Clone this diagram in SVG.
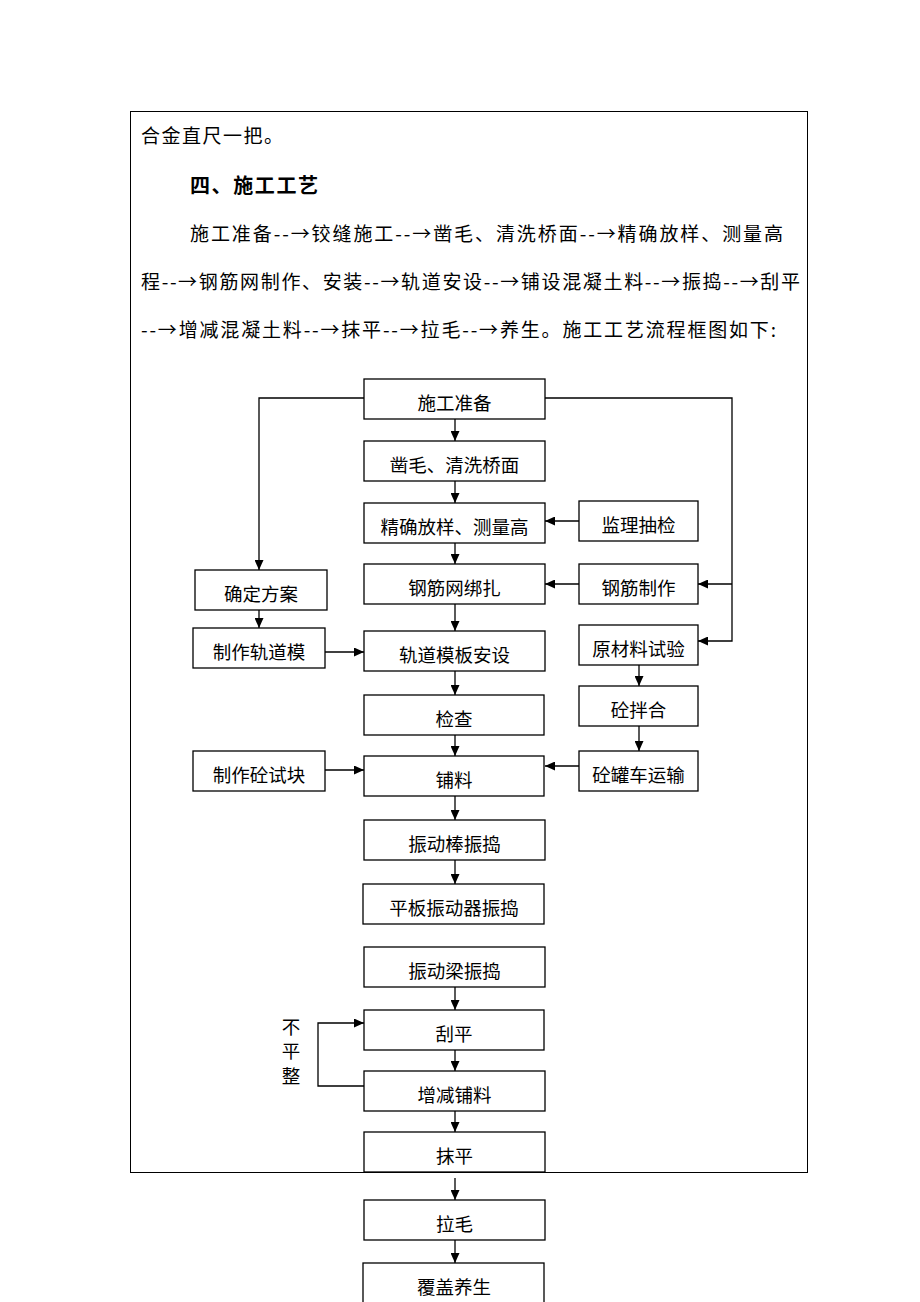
<svg xmlns="http://www.w3.org/2000/svg" width="920" height="1302" viewBox="0 0 920 1302">
<style>
.p{font-family:"Noto Sans CJK SC","Liberation Sans",sans-serif;font-size:19px;fill:#000}
.h{font-weight:bold;font-size:20px}
.bx{fill:#fff;stroke:#000;stroke-width:1.3}
.t{font-family:"Noto Sans CJK SC","Liberation Sans",sans-serif;font-size:18.5px;fill:#000;text-anchor:middle}
.c{fill:none;stroke:#000;stroke-width:1.3}
</style>
<defs>
<marker id="a" markerUnits="userSpaceOnUse" markerWidth="10" markerHeight="9" refX="10" refY="4.5" orient="auto"><path d="M0,0 L10,4.5 L0,9 z" fill="#000"/></marker>
</defs>
<rect x="130.5" y="111.5" width="677" height="1061" fill="#fff" stroke="#000" stroke-width="1"/>
<text class="p" x="141" y="143" textLength="142">合金直尺一把。</text>
<text class="p h" x="190" y="193" textLength="128">四、施工工艺</text>
<text class="p" x="190" y="241" textLength="593">施工准备--→铰缝施工--→凿毛、清洗桥面--→精确放样、测量高</text>
<text class="p" x="141" y="289" textLength="659">程--→钢筋网制作、安装--→轨道安设--→铺设混凝土料--→振捣--→刮平</text>
<text class="p" x="141" y="337" textLength="635">--→增减混凝土料--→抹平--→拉毛--→养生。施工工艺流程框图如下:</text>
<g id="connectors">
<path class="c" d="M364,398 H259 V570" marker-end="url(#a)"/>
<path class="c" d="M545,398 H732 V641 H698" marker-end="url(#a)"/>
<path class="c" d="M732,584 H698" marker-end="url(#a)"/>
<path class="c" d="M455,419 V441" marker-end="url(#a)"/>
<path class="c" d="M455,481 V503" marker-end="url(#a)"/>
<path class="c" d="M455,543 V564" marker-end="url(#a)"/>
<path class="c" d="M455,604 V631" marker-end="url(#a)"/>
<path class="c" d="M455,671 V695" marker-end="url(#a)"/>
<path class="c" d="M455,735 V756" marker-end="url(#a)"/>
<path class="c" d="M455,796 V820" marker-end="url(#a)"/>
<path class="c" d="M455,860 V884" marker-end="url(#a)"/>
<path class="c" d="M455,987 V1010" marker-end="url(#a)"/>
<path class="c" d="M455,1050 V1071" marker-end="url(#a)"/>
<path class="c" d="M455,1111 V1132" marker-end="url(#a)"/>
<path class="c" d="M455,1178 V1200" marker-end="url(#a)"/>
<path class="c" d="M455,1240 V1263" marker-end="url(#a)"/>
<path class="c" d="M579,521 H545" marker-end="url(#a)"/>
<path class="c" d="M579,584 H545" marker-end="url(#a)"/>
<path class="c" d="M259,610 V628" marker-end="url(#a)"/>
<path class="c" d="M325,652 H364" marker-end="url(#a)"/>
<path class="c" d="M639,665 V686" marker-end="url(#a)"/>
<path class="c" d="M639,726 V751" marker-end="url(#a)"/>
<path class="c" d="M579,766 H545" marker-end="url(#a)"/>
<path class="c" d="M325,770 H364" marker-end="url(#a)"/>
<path class="c" d="M364,1086 H318 V1023 H364" marker-end="url(#a)"/>
</g>
<g id="n1"><rect class="bx" x="364" y="379" width="181" height="40"/><text class="t" x="454.5" y="410">施工准备</text></g>
<g id="n2"><rect class="bx" x="364" y="441" width="181" height="40"/><text class="t" x="454.5" y="472">凿毛、清洗桥面</text></g>
<g id="n3"><rect class="bx" x="364" y="503" width="181" height="40"/><text class="t" x="454.5" y="534">精确放样、测量高</text></g>
<g id="n4"><rect class="bx" x="364" y="564" width="181" height="40"/><text class="t" x="454.5" y="595">钢筋网绑扎</text></g>
<g id="n5"><rect class="bx" x="364" y="631" width="181" height="40"/><text class="t" x="454.5" y="662">轨道模板安设</text></g>
<g id="n6"><rect class="bx" x="364" y="695" width="180" height="40"/><text class="t" x="454" y="726">检查</text></g>
<g id="n7"><rect class="bx" x="364" y="756" width="180" height="40"/><text class="t" x="454" y="787">铺料</text></g>
<g id="n8"><rect class="bx" x="364" y="820" width="181" height="40"/><text class="t" x="454.5" y="851">振动棒振捣</text></g>
<g id="n9"><rect class="bx" x="363" y="884" width="181" height="40"/><text class="t" x="454" y="915">平板振动器振捣</text></g>
<g id="n10"><rect class="bx" x="364" y="947" width="181" height="40"/><text class="t" x="454.5" y="978">振动梁振捣</text></g>
<g id="n11"><rect class="bx" x="364" y="1010" width="180" height="40"/><text class="t" x="454" y="1041">刮平</text></g>
<g id="n12"><rect class="bx" x="364" y="1071" width="181" height="40"/><text class="t" x="454.5" y="1102">增减铺料</text></g>
<g id="n13"><rect class="bx" x="364" y="1132" width="181" height="40"/><text class="t" x="454.5" y="1163">抹平</text></g>
<g id="n14"><rect class="bx" x="364" y="1200" width="181" height="40"/><text class="t" x="454.5" y="1231">拉毛</text></g>
<g id="n15"><rect class="bx" x="363" y="1263" width="181" height="45"/><text class="t" x="454" y="1294">覆盖养生</text></g>
<g id="l1"><rect class="bx" x="195" y="570" width="132" height="40"/><text class="t" x="261" y="601">确定方案</text></g>
<g id="l2"><rect class="bx" x="193" y="628" width="132" height="40"/><text class="t" x="259" y="659">制作轨道模</text></g>
<g id="l3"><rect class="bx" x="193" y="751" width="132" height="40"/><text class="t" x="259" y="782">制作砼试块</text></g>
<g id="r1"><rect class="bx" x="579" y="501" width="119" height="40"/><text class="t" x="638.5" y="532">监理抽检</text></g>
<g id="r2"><rect class="bx" x="579" y="564" width="119" height="40"/><text class="t" x="638.5" y="595">钢筋制作</text></g>
<g id="r3"><rect class="bx" x="579" y="625" width="119" height="40"/><text class="t" x="638.5" y="656">原材料试验</text></g>
<g id="r4"><rect class="bx" x="579" y="686" width="119" height="40"/><text class="t" x="638.5" y="717">砼拌合</text></g>
<g id="r5"><rect class="bx" x="579" y="751" width="119" height="40"/><text class="t" x="638.5" y="782">砼罐车运输</text></g>
<g id="label"><text class="t" x="291" y="1034">不</text><text class="t" x="291" y="1058">平</text><text class="t" x="291" y="1083">整</text></g>
</svg>
